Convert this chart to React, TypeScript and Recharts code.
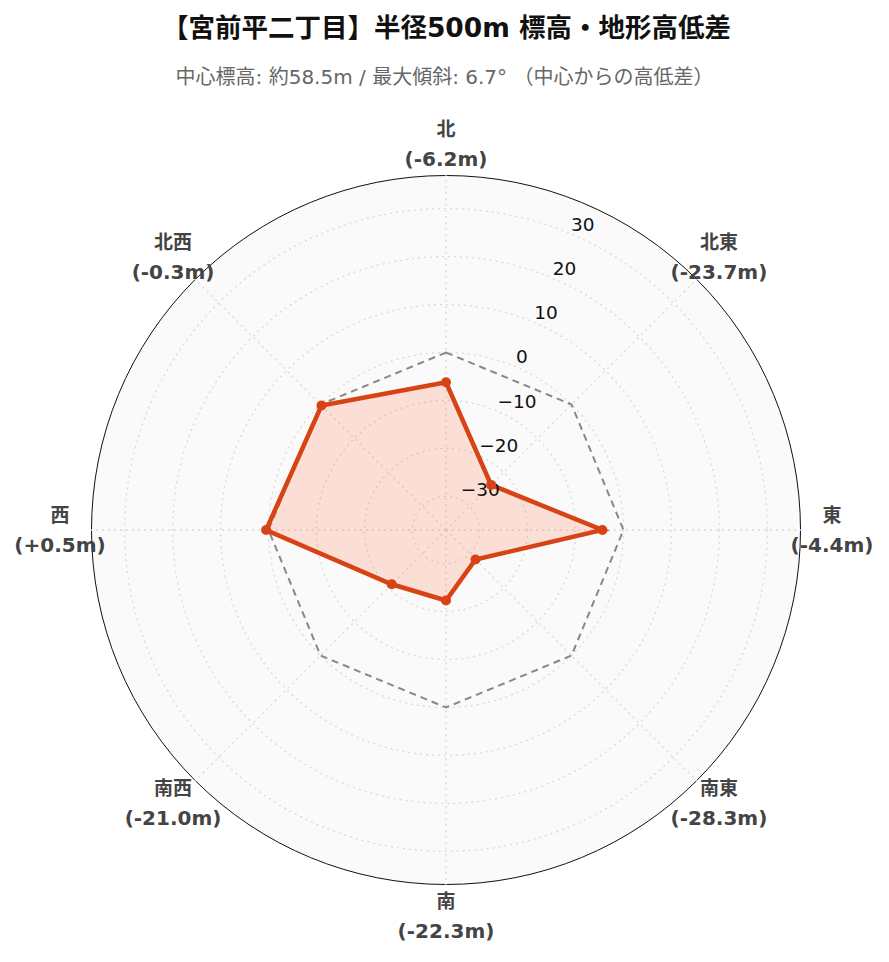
import React from 'react';
import { RadarChart, Radar, PolarGrid, PolarAngleAxis, PolarRadiusAxis } from 'recharts';

const directions = ['北', '北東', '東', '南東', '南', '南西', '西', '北西'];
const elevationDiffs = [-6.2, -23.7, -4.4, -28.3, -22.3, -21.0, 0.5, -0.3];
const referenceLevel = [0, 0, 0, 0, 0, 0, 0, 0];
const radialTicks = [-30, -20, -10, 0, 10, 20, 30];
const radialMax = 36.79;

const TITLE = '【宮前平二丁目】半径500m 標高・地形高低差';
const SUBTITLE = '中心標高: 約58.5m / 最大傾斜: 6.7° （中心からの高低差）';

const CX = 446;
const CY = 530;
const OUTER = 355;
const LABEL_R = 386;
const FONT = '"DejaVu Sans", "Noto Sans CJK JP", sans-serif';

const data = directions.map((d, i) => ({
  dir: d,
  diff: elevationDiffs[i],
  zero: referenceLevel[i],
}));

const fmtDiff = (v: number) => `(${v >= 0 ? '+' : '-'}${Math.abs(v).toFixed(1)}m)`;

function AngleTick({ x, y, payload }: any) {
  const idx = directions.indexOf(payload.value);
  const a = Math.atan2(y - CY, x - CX);
  const px = CX + LABEL_R * Math.cos(a);
  const py = CY + LABEL_R * Math.sin(a);
  return (
    <g>
      <text x={px} y={py - 15} dy="0.35em" textAnchor="middle" fontSize={19} fontWeight="bold" fill="#444" fontFamily={FONT}>
        {payload.value}
      </text>
      <text x={px} y={py + 15} dy="0.35em" textAnchor="middle" fontSize={20} fontWeight="bold" fill="#444" fontFamily={FONT}>
        {fmtDiff(elevationDiffs[idx])}
      </text>
    </g>
  );
}

function RadiusTick({ x, y, payload }: any) {
  const label = String(payload.value).replace('-', '\u2212');
  return (
    <text x={x + 2} y={y - 9} dy="0.35em" textAnchor="start" fontSize={18.5} fill="#111" fontFamily={FONT}>
      {label}
    </text>
  );
}

export default function App() {
  return (
    <div style={{ position: 'absolute', top: 0, left: 0, width: 889, height: 962, background: '#fff', fontFamily: FONT }}>
      <div style={{ position: 'absolute', top: 11, left: 2, width: 889, textAlign: 'center', fontSize: 26.5, fontWeight: 'bold', color: '#111', lineHeight: '34px' }}>
        {TITLE}
      </div>
      <div style={{ position: 'absolute', top: 63, left: 0, width: 889, textAlign: 'center', fontSize: 20, color: '#666', lineHeight: '28px' }}>
        {SUBTITLE}
      </div>
      <div
        style={{
          position: 'absolute',
          left: CX - OUTER,
          top: CY - OUTER,
          width: OUTER * 2,
          height: OUTER * 2,
          borderRadius: '50%',
          background: '#fafafa',
          border: '1.5px solid #111',
          boxSizing: 'border-box',
        }}
      />
      <div style={{ position: 'absolute', top: 0, left: 0 }}>
        <RadarChart width={889} height={962} data={data} cx={CX} cy={CY} outerRadius={OUTER} startAngle={90} endAngle={-270}>
          <PolarGrid gridType="circle" stroke="#d9d9d9" strokeDasharray="2 4" strokeWidth={1.3} />
          <PolarAngleAxis dataKey="dir" tick={<AngleTick />} tickLine={false} axisLine={false} />
          <PolarRadiusAxis
            angle={67.5}
            type="number"
            domain={[-radialMax, radialMax]}
            ticks={radialTicks}
            tick={<RadiusTick />}
            axisLine={false}
            tickLine={false}
            allowDataOverflow
          />
          <Radar
            dataKey="zero"
            stroke="#888"
            strokeWidth={2}
            strokeDasharray="7 5"
            fill="none"
            fillOpacity={0}
            dot={false}
            isAnimationActive={false}
          />
          <Radar
            dataKey="diff"
            stroke="#D84315"
            strokeWidth={4.5}
            fill="#FF7043"
            fillOpacity={0.2}
            dot={{ r: 5, fill: '#D84315', stroke: '#D84315', strokeWidth: 0, fillOpacity: 1 }}
            isAnimationActive={false}
          />
        </RadarChart>
      </div>
    </div>
  );
}
